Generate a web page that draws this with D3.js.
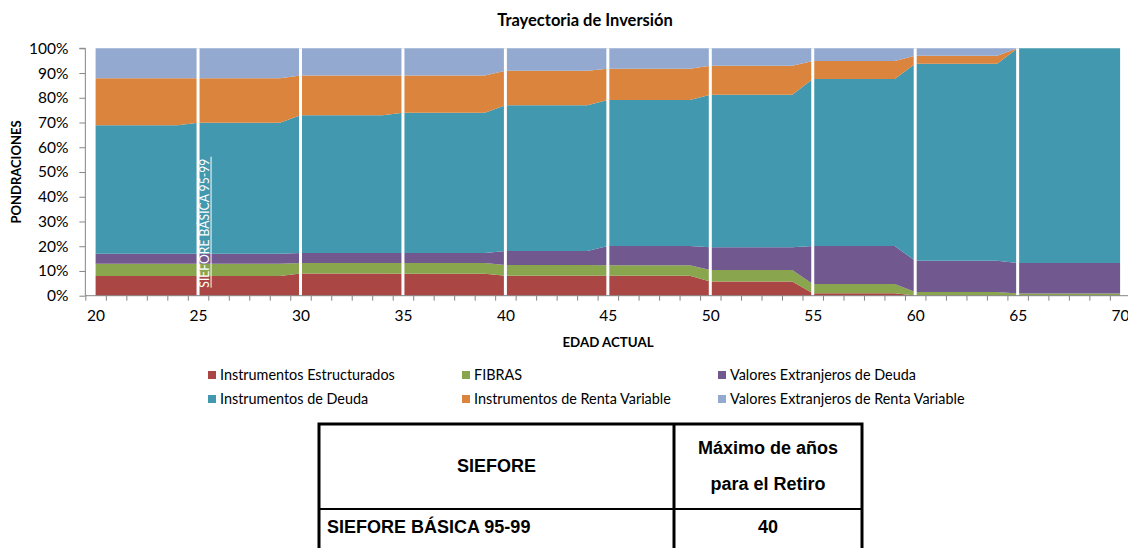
<!DOCTYPE html>
<html>
<head>
<meta charset="utf-8">
<script src="https://cdn.jsdelivr.net/npm/d3@7"></script>
<style>
  body { margin: 0; background: #fff; }
  svg { display: block; font-family: Lato, "Open Sans", sans-serif; }
</style>
</head>
<body>
<div id="chart"></div>
<script>
// ages on the category axis
const ages = d3.range(20, 71);

// weights in %, one value per age (20..70)
const estructurados = [
  8.0, 8.0, 8.0, 8.0, 8.0,   8.0, 8.0, 8.0, 8.0, 8.0,
  9.0, 9.0, 9.0, 9.0, 9.0,   8.9, 8.9, 8.9, 8.9, 8.9,
  8.1, 8.1, 8.1, 8.1, 8.1,   8.1, 8.1, 8.1, 8.1, 8.1,
  5.7, 5.7, 5.7, 5.7, 5.7,   1.0, 1.0, 1.0, 1.0, 1.0,
  0.1, 0.1, 0.1, 0.1, 0.1,   0, 0, 0, 0, 0, 0
];
const fibras = [
  4.9, 4.9, 4.9, 4.9, 4.9,   4.9, 4.9, 4.9, 4.9, 4.9,
  4.2, 4.2, 4.2, 4.2, 4.2,   4.3, 4.3, 4.3, 4.3, 4.3,
  4.3, 4.3, 4.3, 4.3, 4.3,   4.2, 4.2, 4.2, 4.2, 4.2,
  4.7, 4.7, 4.7, 4.7, 4.7,   3.7, 3.7, 3.7, 3.7, 3.7,
  1.4, 1.4, 1.4, 1.4, 1.4,   0.9, 0.9, 0.9, 0.9, 0.9, 0.9
];
const extDeuda = [
  4.1, 4.1, 4.1, 4.1, 4.1,   4.1, 4.1, 4.1, 4.1, 4.1,
  4.1, 4.1, 4.1, 4.1, 4.1,   4.1, 4.1, 4.1, 4.1, 4.1,
  5.7, 5.7, 5.7, 5.7, 5.7,   7.8, 7.8, 7.8, 7.8, 7.8,
  9.2, 9.2, 9.2, 9.2, 9.2,   15.4, 15.4, 15.4, 15.4, 15.4,
  12.6, 12.6, 12.6, 12.6, 12.6,   12.3, 12.3, 12.3, 12.3, 12.3, 12.3
];
const deuda = [
  51.9, 51.9, 51.9, 51.9, 51.9,   52.9, 52.9, 52.9, 52.9, 52.9,
  55.6, 55.6, 55.6, 55.6, 55.6,   56.6, 56.6, 56.6, 56.6, 56.6,
  58.9, 58.9, 58.9, 58.9, 58.9,   59.0, 59.0, 59.0, 59.0, 59.0,
  61.6, 61.6, 61.6, 61.6, 61.6,   67.5, 67.5, 67.5, 67.5, 67.5,
  79.7, 79.7, 79.7, 79.7, 79.7,   86.8, 86.8, 86.8, 86.8, 86.8, 86.8
];
const rentaVar = [
  19.0, 19.0, 19.0, 19.0, 19.0,   18.0, 18.0, 18.0, 18.0, 18.0,
  16.1, 16.1, 16.1, 16.1, 16.1,   15.1, 15.1, 15.1, 15.1, 15.1,
  13.9, 13.9, 13.9, 13.9, 13.9,   12.6, 12.6, 12.6, 12.6, 12.6,
  11.7, 11.7, 11.7, 11.7, 11.7,   7.3, 7.3, 7.3, 7.3, 7.3,
  3.2, 3.2, 3.2, 3.2, 3.2,   0, 0, 0, 0, 0, 0
];
const extRentaVar = [
  12.1, 12.1, 12.1, 12.1, 12.1,   12.1, 12.1, 12.1, 12.1, 12.1,
  11.0, 11.0, 11.0, 11.0, 11.0,   11.0, 11.0, 11.0, 11.0, 11.0,
  9.1, 9.1, 9.1, 9.1, 9.1,   8.3, 8.3, 8.3, 8.3, 8.3,
  7.1, 7.1, 7.1, 7.1, 7.1,   5.1, 5.1, 5.1, 5.1, 5.1,
  3.0, 3.0, 3.0, 3.0, 3.0,   0, 0, 0, 0, 0, 0
];

const seriesNames = [
  "Instrumentos Estructurados", "FIBRAS", "Valores Extranjeros de Deuda",
  "Instrumentos de Deuda", "Instrumentos de Renta Variable", "Valores Extranjeros de Renta Variable"
];
const seriesValues = [estructurados, fibras, extDeuda, deuda, rentaVar, extRentaVar];
const seriesColors = ["#AA4643", "#89A54E", "#71588F", "#4198AF", "#DB843D", "#93A9CF"];

// ages where a SIEFORE boundary is marked
const markerAges = [25, 30, 35, 40, 45, 50, 55, 60, 65];
const xLabels = [20, 25, 30, 35, 40, 45, 50, 55, 60, 65, 70];
const yTicks = [0, 10, 20, 30, 40, 50, 60, 70, 80, 90, 100];

const tableHeader = ["SIEFORE", ["Máximo de años", "para el Retiro"]];
const tableRow = ["SIEFORE BÁSICA 95-99", "40"];

const width = 1128;
const height = 548;

const svg = d3.select("#chart")
  .append("svg")
  .attr("width", width)
  .attr("height", height);

const x = d3.scaleLinear()
  .domain([20, 70])
  .range([95.6, 1120.1]);
const y = d3.scaleLinear()
  .domain([0, 100])
  .range([295.7, 48.3]);

const rows = ages.map((a, i) => {
  const r = { age: a };
  seriesNames.forEach((n, j) => r[n] = seriesValues[j][i]);
  return r;
});

const stacked = d3.stack().keys(seriesNames)(rows);

const area = d3.area()
  .x(d => x(d.data.age))
  .y0(d => y(d[0]))
  .y1(d => y(d[1]));

svg.append("g")
  .selectAll("path")
  .data(stacked)
  .enter()
  .append("path")
  .attr("d", area)
  .attr("fill", (d, i) => seriesColors[i]);

// white boundary lines
svg.append("g")
  .selectAll("line")
  .data(markerAges)
  .enter()
  .append("line")
  .attr("x1", d => x(d))
  .attr("x2", d => x(d))
  .attr("y1", y(100))
  .attr("y2", y(0))
  .attr("stroke", "#fff")
  .attr("stroke-width", 3);

// rotated label with underline
const lab = svg.append("g")
  .attr("transform", `translate(${x(25) + 11},${y(0) - 8}) rotate(-90)`);
lab.append("text")
  .attr("x", 0)
  .attr("y", 0)
  .attr("fill", "#fff")
  .attr("font-size", 13)
  .attr("textLength", 129)
  .attr("lengthAdjust", "spacingAndGlyphs")
  .text("SIEFORE BÁSICA 95-99");
lab.append("line")
  .attr("x1", 0).attr("x2", 131)
  .attr("y1", 2).attr("y2", 2)
  .attr("stroke", "#fff")
  .attr("stroke-width", 1);

// y axis
const yAxis = d3.axisLeft(y)
  .tickValues(yTicks)
  .tickSize(6)
  .tickFormat(d => d + "%");
const yG = svg.append("g")
  .attr("transform", `translate(${x(19.5)},0)`)
  .call(yAxis);
yG.select(".domain").attr("stroke", "#868686").attr("d", `M-6,${y(100)}H0V${y(0)}`);
yG.selectAll(".tick line").attr("stroke", "#868686");
yG.selectAll(".tick text")
  .attr("x", -17)
  .attr("font-family", "Lato, sans-serif")
  .attr("font-size", 15.5)
  .attr("fill", "#000");

// x axis: ticks between categories, labels every 5 years
const boundaries = d3.range(19.5, 71, 1);
const xTickG = svg.append("g")
  .attr("transform", `translate(0,${y(0)})`)
  .call(d3.axisBottom(x).tickValues(boundaries).tickSize(5).tickFormat(""));
xTickG.select(".domain").attr("stroke", "#868686").attr("d", `M${x(19.5)},0H${x(70.5)}`);
xTickG.selectAll(".tick line").attr("stroke", "#868686");

const xLabG = svg.append("g")
  .attr("transform", `translate(0,${y(0)})`)
  .call(d3.axisBottom(x).tickValues(xLabels).tickSize(0).tickFormat(d3.format("d")));
xLabG.select(".domain").remove();
xLabG.selectAll(".tick text")
  .attr("y", 14)
  .attr("font-family", "Lato, sans-serif")
  .attr("font-size", 15.5)
  .attr("fill", "#000");

// titles
svg.append("text")
  .attr("x", 585)
  .attr("y", 26)
  .attr("text-anchor", "middle")
  .attr("font-size", 16.5)
  .attr("font-weight", "bold")
  .text("Trayectoria de Inversión");

svg.append("text")
  .attr("text-anchor", "middle")
  .attr("transform", `translate(21,172) rotate(-90)`)
  .attr("font-size", 13)
  .attr("font-weight", "bold")
  .text("PONDRACIONES");

svg.append("text")
  .attr("x", 608)
  .attr("y", 347)
  .attr("text-anchor", "middle")
  .attr("font-size", 13.3)
  .attr("font-weight", "bold")
  .text("EDAD ACTUAL");

// legend, 3 columns x 2 rows
const legendCols = [208, 462, 718];
const legendRows = [375, 399];
const legendOrder = [0, 1, 2, 3, 4, 5];
const legend = svg.append("g")
  .selectAll("g")
  .data(legendOrder)
  .enter()
  .append("g")
  .attr("transform", (d, i) => `translate(${legendCols[i % 3]},${legendRows[Math.floor(i / 3)]})`);
legend.append("rect")
  .attr("x", 0).attr("y", -4)
  .attr("width", 8).attr("height", 8)
  .attr("fill", d => seriesColors[d]);
legend.append("text")
  .attr("x", 12)
  .attr("y", 5)
  .attr("font-size", 14.4)
  .text(d => seriesNames[d]);

// table below the chart
const tLeft = 319, tRight = 862, tMid = 674, tTop = 424, tRowLine = 509, tBottom = 560;
const table = svg.append("g").attr("font-family", "'Liberation Sans', Arial, sans-serif");
table.append("rect")
  .attr("x", tLeft).attr("y", tTop)
  .attr("width", tRight - tLeft).attr("height", tBottom - tTop)
  .attr("fill", "none").attr("stroke", "#000").attr("stroke-width", 3);
table.append("line")
  .attr("x1", tMid).attr("x2", tMid).attr("y1", tTop).attr("y2", tBottom)
  .attr("stroke", "#000").attr("stroke-width", 3);
table.append("line")
  .attr("x1", tLeft).attr("x2", tRight).attr("y1", tRowLine).attr("y2", tRowLine)
  .attr("stroke", "#000").attr("stroke-width", 2);

table.append("text")
  .attr("x", (tLeft + tMid) / 2).attr("y", 472)
  .attr("text-anchor", "middle")
  .attr("font-size", 18).attr("font-weight", "bold")
  .text(tableHeader[0]);
table.selectAll("text.h2")
  .data(tableHeader[1])
  .enter()
  .append("text")
  .attr("class", "h2")
  .attr("x", (tMid + tRight) / 2)
  .attr("y", (d, i) => 454 + i * 36)
  .attr("text-anchor", "middle")
  .attr("font-size", 18).attr("font-weight", "bold")
  .text(d => d);
table.append("text")
  .attr("x", tLeft + 8).attr("y", 533)
  .attr("font-size", 18).attr("font-weight", "bold")
  .text(tableRow[0]);
table.append("text")
  .attr("x", (tMid + tRight) / 2).attr("y", 533)
  .attr("text-anchor", "middle")
  .attr("font-size", 18).attr("font-weight", "bold")
  .text(tableRow[1]);
</script>
</body>
</html>
